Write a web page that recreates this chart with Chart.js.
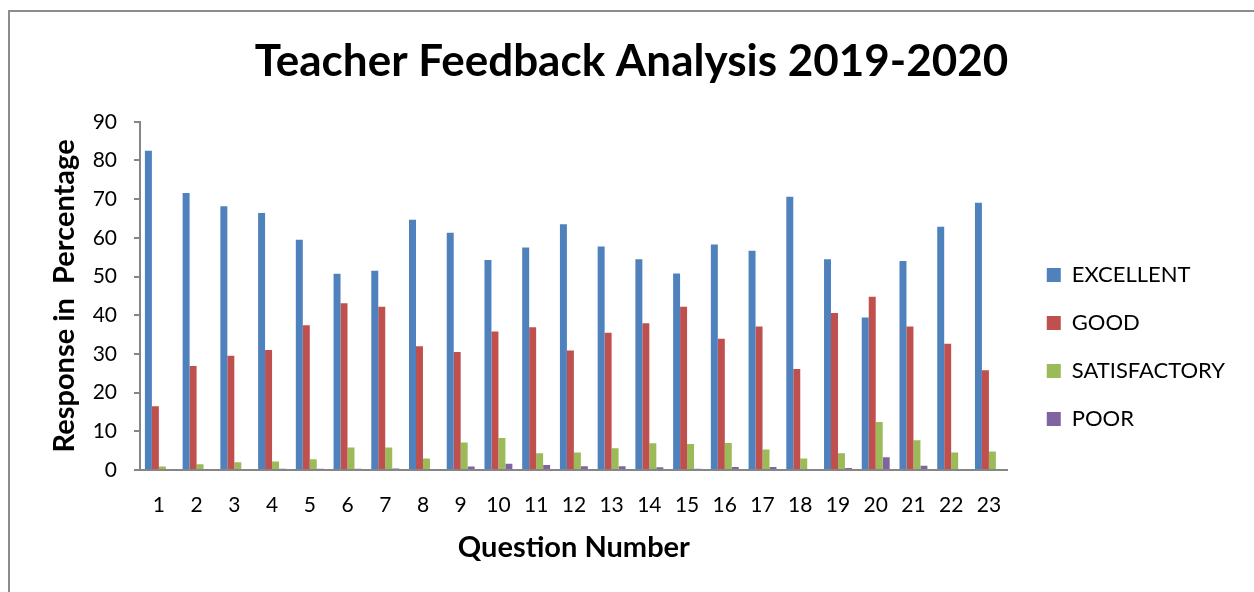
<!DOCTYPE html>
<html>
<head>
<meta charset="utf-8">
<script src="https://cdn.jsdelivr.net/npm/chart.js@4.4.1/dist/chart.umd.min.js"></script>
<style>
  html, body { margin: 0; background: #fff; overflow: hidden; width: 1254px; height: 592px; }
  .edge { position: absolute; background: #8c8c8c; }
  #topEdge { left: 8px; top: 10px; width: 1246px; height: 2px; }
  #leftEdge { left: 8px; top: 10px; width: 2px; height: 582px; }
  #canvas { position: absolute; left: 0; top: 0; }
</style>
</head>
<body>
<div class="edge" id="topEdge"></div>
<div class="edge" id="leftEdge"></div>
<canvas id="canvas" width="1254" height="592"></canvas>
<script>
'use strict';

var questions = ['1', '2', '3', '4', '5', '6', '7', '8', '9', '10', '11', '12',
	'13', '14', '15', '16', '17', '18', '19', '20', '21', '22', '23'];

var excellent = [82.5, 71.6, 68.2, 66.4, 59.5, 50.7, 51.5, 64.7, 61.3, 54.3, 57.5, 63.5,
	57.8, 54.5, 50.8, 58.3, 56.7, 70.6, 54.5, 39.4, 54.0, 62.9, 69.1];
var good = [16.5, 26.9, 29.5, 31.0, 37.4, 43.1, 42.2, 32.0, 30.5, 35.8, 36.9, 30.9,
	35.5, 37.9, 42.2, 33.9, 37.1, 26.1, 40.6, 44.8, 37.1, 32.6, 25.8];
var satisfactory = [0.9, 1.5, 2.0, 2.2, 2.8, 5.8, 5.8, 3.0, 7.1, 8.3, 4.3, 4.5,
	5.6, 6.9, 6.7, 7.0, 5.3, 3.0, 4.3, 12.4, 7.7, 4.5, 4.8];
var poor = [0, 0, 0, 0.3, 0.3, 0.3, 0.4, 0, 0.9, 1.6, 1.3, 1.0,
	1.0, 0.7, 0.3, 0.8, 0.8, 0, 0.5, 3.3, 1.1, 0, 0];

var yTicks = [0, 10, 20, 30, 40, 50, 60, 70, 80, 90];

var axisGray = '#868686';
var fontName = 'Lato';

function makeSet(label, values, color) {
	return {
		label: label,
		data: values,
		backgroundColor: color,
		borderWidth: 0,
		categoryPercentage: 0.74,
		barPercentage: 1.0
	};
}

var config = {
	type: 'bar',
	data: {
		labels: questions,
		datasets: [
			makeSet('EXCELLENT', excellent, '#4F81BD'),
			makeSet('GOOD', good, '#C0504D'),
			makeSet('SATISFACTORY', satisfactory, '#9BBB59'),
			makeSet('POOR', poor, '#8064A2')
		]
	},
	options: {
		responsive: false,
		animation: false,
		devicePixelRatio: 1,
		layout: { padding: { left: 28, right: 19, top: 0, bottom: 0 } },
		plugins: {
			tooltip: { enabled: false },
			title: {
				display: true,
				text: 'Teacher Feedback Analysis 2019-2020',
				color: '#000',
				font: { family: fontName, size: 44, weight: 'bold' },
				padding: { top: 35, bottom: 34 }
			},
			legend: {
				position: 'right',
				align: 'center',
				maxWidth: 300,
				// empty title only pushes the items down a little
				title: { display: true, text: '', font: { size: 10 }, padding: { top: 0, bottom: 90 } },
				labels: {
					color: '#000',
					boxWidth: 14,
					boxHeight: 14,
					padding: 26,
					font: { family: fontName, size: 22 }
				}
			}
		},
		scales: {
			x: {
				grid: { display: false, drawTicks: false },
				border: { display: true, color: axisGray, width: 2 },
				ticks: {
					color: '#000',
					padding: 23,
					maxRotation: 0,
					autoSkip: false,
					font: { family: fontName, size: 21 }
				},
				title: {
					display: true,
					text: 'Question Number',
					color: '#000',
					font: { family: fontName, size: 29, weight: 'bold' },
					padding: { top: 0, bottom: 27 }
				},
				afterFit: function (scale) { scale.height = 122; }
			},
			y: {
				min: 0,
				max: 90,
				afterBuildTicks: function (scale) {
					scale.ticks = yTicks.map(function (v) { return { value: v }; });
				},
				grid: { drawOnChartArea: false, drawTicks: true, tickLength: 6, color: axisGray, lineWidth: 2 },
				border: { display: true, color: axisGray, width: 2 },
				ticks: {
					color: '#000',
					padding: 17,
					font: { family: fontName, size: 21 }
				},
				title: {
					display: true,
					text: 'Response in  Percentage',
					color: '#000',
					font: { family: fontName, size: 29, weight: 'bold' },
					padding: { top: 19, bottom: 0 }
				},
				afterFit: function (scale) { scale.width = 112; }
			},
			gap: {
				type: 'linear',
				position: 'right',
				display: true,
				grid: { display: false },
				border: { display: false },
				ticks: { display: false },
				afterFit: function (scale) { scale.width = 13; }
			}
		}
	}
};

var ctx = document.getElementById('canvas').getContext('2d');
window.mychart = new Chart(ctx, config);
</script>
</body>
</html>
